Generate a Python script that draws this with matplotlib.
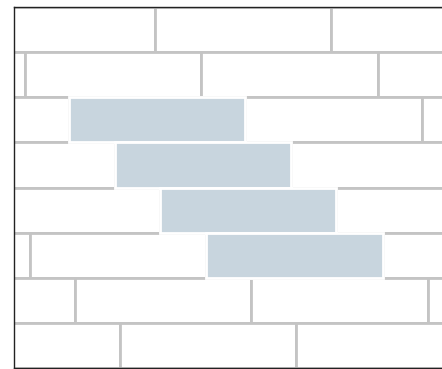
import matplotlib.pyplot as plt
import numpy as np

# Offset of the first joint in each course (top to bottom)
row_offsets = [141, 11, 55, 101, 146, 16, 61, 106]
brick_len = 176.5
# Highlighted bricks: (row, left edge)
hl_rows = [2, 3, 4, 5]
hl_lefts = [55, 101, 146, 192.5]

x_max = 440

fig = plt.figure(figsize=(4.42, 3.69), dpi=100)
ax = fig.add_axes([14 / 442, 1 / 369, 1.02, 361 / 369])

# Courses of plain bricks
for r, off in enumerate(row_offsets):
    lefts = np.arange(off - brick_len, x_max, brick_len)
    ax.barh(np.full(len(lefts), r), np.full(len(lefts), brick_len), left=lefts,
            height=1.0, color='white', edgecolor='#c4c4c4', linewidth=2.0, zorder=2)

# Highlighted bricks
ax.barh(hl_rows, [brick_len] * len(hl_rows), left=hl_lefts, height=1.0,
        color='#c8d5de', edgecolor='white', linewidth=2.0, zorder=3)

ax.set_xlim(0, 1.02 * 442)
ax.set_ylim(7.5, -0.5)
ax.set_xticks([])
ax.set_yticks([])
ax.spines['right'].set_visible(False)
for s in ['left', 'top', 'bottom']:
    ax.spines[s].set_color('#222222')
    ax.spines[s].set_linewidth(1.0)
    ax.spines[s].set_zorder(5)

fig.savefig('out.png', dpi=100)
